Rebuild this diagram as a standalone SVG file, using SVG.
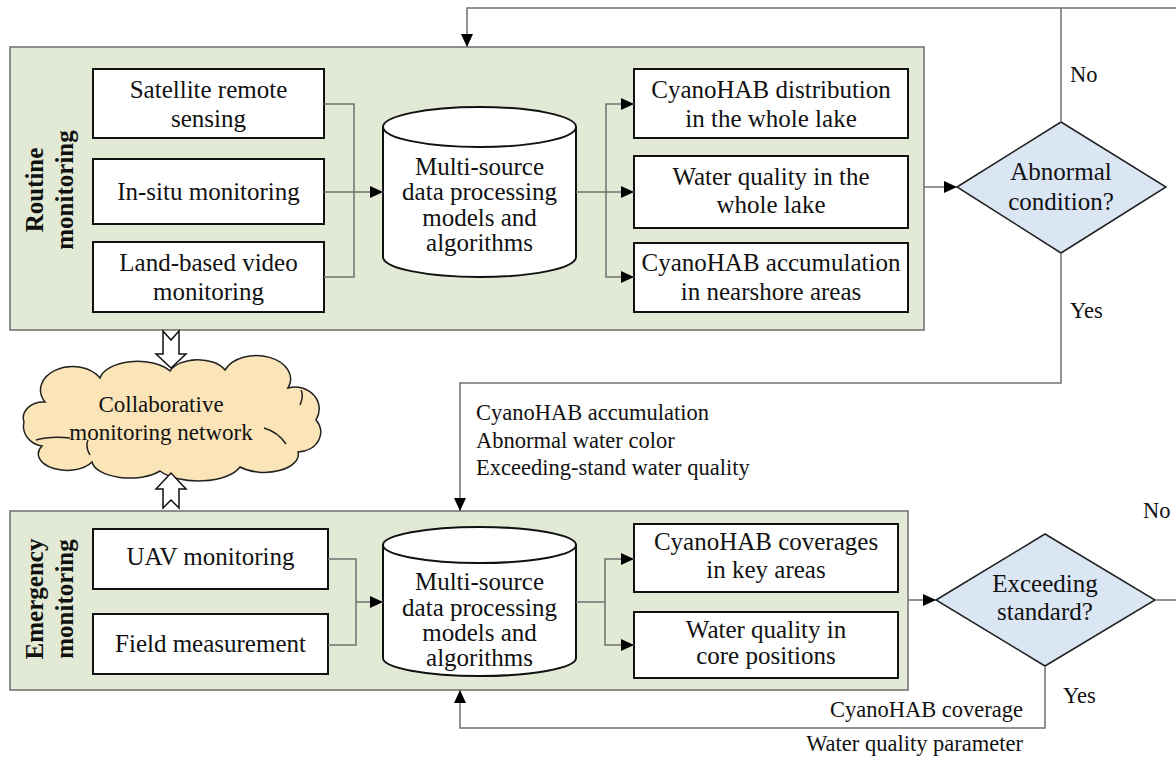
<svg xmlns="http://www.w3.org/2000/svg" width="1176" height="757" viewBox="0 0 1176 757">
<style>
.panel{fill:#e2ead6;stroke:#6e6e6e;stroke-width:1.5}
.box{fill:#fff;stroke:#111;stroke-width:2}
.cyl{fill:#fff;stroke:#111;stroke-width:2}
.dia{fill:#dbe6f4;stroke:#222;stroke-width:1.5}
.t{font-family:"Liberation Serif","Times New Roman",serif;font-size:25px;fill:#111;text-anchor:middle}
.lb{font-family:"Liberation Serif","Times New Roman",serif;font-size:22.5px;fill:#111}
.side{font-family:"Liberation Serif","Times New Roman",serif;font-size:25px;font-weight:bold;fill:#111;text-anchor:middle}
.c{fill:none;stroke:#707070;stroke-width:1.5}
.hollow{fill:#fff;stroke:#111;stroke-width:1.5;stroke-linejoin:miter}
</style>
<defs>
<marker id="ah" markerUnits="userSpaceOnUse" markerWidth="14" markerHeight="12" refX="13" refY="6" orient="auto">
<path d="M0,0 L13,6 L0,12 z" fill="#000"/>
</marker>
</defs>

<g id="routine-panel">
<rect class="panel" x="10" y="47" width="914" height="283"/>
<text class="side" transform="translate(43,190) rotate(-90)">Routine</text>
<text class="side" transform="translate(73,190) rotate(-90)">monitoring</text>
</g>
<g id="satellite"><rect class="box" x="93" y="69" width="231" height="69"/>
<text class="t" x="208.5" y="98">Satellite remote</text><text class="t" x="208.5" y="127">sensing</text></g>
<g id="insitu"><rect class="box" x="93" y="159" width="231" height="65"/>
<text class="t" x="208.5" y="200">In-situ monitoring</text></g>
<g id="landbased"><rect class="box" x="93" y="242" width="231" height="70"/>
<text class="t" x="208.5" y="271">Land-based video</text><text class="t" x="208.5" y="300">monitoring</text></g>
<g id="cyl-top">
<path class="cyl" d="M383,127 L383,257 A96.5,20 0 0 0 576,257 L576,127 A96.5,20 0 0 0 383,127 A96.5,20 0 0 0 576,127"/>
<text class="t" x="479.5" y="175">Multi-source</text>
<text class="t" x="479.5" y="200">data processing</text>
<text class="t" x="479.5" y="226">models and</text>
<text class="t" x="479.5" y="251">algorithms</text>
</g>
<g id="distribution"><rect class="box" x="634" y="69" width="274" height="69"/>
<text class="t" x="771" y="98">CyanoHAB distribution</text><text class="t" x="771" y="127">in the whole lake</text></g>
<g id="wq-whole"><rect class="box" x="634" y="156" width="274" height="72"/>
<text class="t" x="771" y="185">Water quality in the</text><text class="t" x="771" y="213">whole lake</text></g>
<g id="accumulation"><rect class="box" x="634" y="243" width="274" height="69"/>
<text class="t" x="771" y="271">CyanoHAB accumulation</text><text class="t" x="771" y="300">in nearshore areas</text></g>
<g id="abnormal">
<polygon class="dia" points="957,187 1061,122 1166,187 1061,253"/>
<text class="t" x="1061" y="180">Abnormal</text><text class="t" x="1061" y="210">condition?</text>
</g>

<g id="cloud">
<path d="M45,402 A30,22 0 0 1 100,378 A38,20 0 0 1 170,371 A30,18 0 0 1 225,370 A32,22 0 0 1 288,388 A24,22 0 0 1 316,420 A24,20 0 0 1 298,452 A34,18 0 0 1 240,467 A44,20 0 0 1 160,471 A38,18 0 0 1 92,462 A28,16 0 0 1 42,446 A22,20 0 0 1 24,422 A20,16 0 0 1 45,402 Z" fill="#fbe5b8" stroke="#222" stroke-width="1.5"/>
<path d="M36,440 Q50,436 70,438 M264,428 Q278,432 286,444 M90,455 Q85,446 88,440 M300,405 Q304,396 301,390" fill="none" stroke="#222" stroke-width="1.5"/>
<text class="lb" x="161" y="412" text-anchor="middle" style="font-size:23px">Collaborative</text>
<text class="lb" x="161" y="440" text-anchor="middle" style="font-size:23px">monitoring network</text>
</g>
<g id="hollow-arrows">
<polygon class="hollow" points="163,331 171,340 179,331 179,354 186,354 171,368 156,354 163,354"/>
<polygon class="hollow" points="163,508 171,500 179,508 179,489 186,489 171,473 156,489 163,489"/>
</g>

<g id="emergency-panel">
<rect class="panel" x="10" y="511" width="898" height="179"/>
<text class="side" transform="translate(43,599) rotate(-90)">Emergency</text>
<text class="side" transform="translate(73,599) rotate(-90)">monitoring</text>
</g>
<g id="uav"><rect class="box" x="93" y="529" width="235" height="60"/>
<text class="t" x="210.5" y="565">UAV monitoring</text></g>
<g id="field"><rect class="box" x="93" y="614" width="235" height="60"/>
<text class="t" x="210.5" y="652">Field measurement</text></g>
<g id="cyl-bottom">
<path class="cyl" d="M383,545 L383,658 A96.5,18 0 0 0 576,658 L576,545 A96.5,18 0 0 0 383,545 A96.5,18 0 0 0 576,545"/>
<text class="t" x="479.5" y="590">Multi-source</text>
<text class="t" x="479.5" y="616">data processing</text>
<text class="t" x="479.5" y="641">models and</text>
<text class="t" x="479.5" y="666">algorithms</text>
</g>
<g id="coverages"><rect class="box" x="634" y="524" width="264" height="68"/>
<text class="t" x="766" y="550">CyanoHAB coverages</text><text class="t" x="766" y="578">in key areas</text></g>
<g id="wq-core"><rect class="box" x="634" y="612" width="264" height="66"/>
<text class="t" x="766" y="638">Water quality in</text><text class="t" x="766" y="664">core positions</text></g>
<g id="exceeding">
<polygon class="dia" points="936,600 1045,534 1155,600 1045,666"/>
<text class="t" x="1045" y="592">Exceeding</text><text class="t" x="1045" y="620">standard?</text>
</g>

<g id="connectors">
<path class="c" d="M324,104 H354 V277 H324 M324,192 H383" marker-end="url(#ah)"/>
<path class="c" d="M576,192 H634" marker-end="url(#ah)"/>
<path class="c" d="M606,192 V104 H634" marker-end="url(#ah)"/>
<path class="c" d="M606,192 V277 H634" marker-end="url(#ah)"/>
<path class="c" d="M924,187 H957" marker-end="url(#ah)"/>
<path class="c" d="M1176,8 H467 V47" marker-end="url(#ah)"/>
<path class="c" d="M1061,122 V8"/>
<path class="c" d="M1061,253 V383 H460 V511" marker-end="url(#ah)"/>
<path class="c" d="M328,559 H356 V645 H328 M356,602 H383" marker-end="url(#ah)"/>
<path class="c" d="M576,602 H605 V559 H634" marker-end="url(#ah)"/>
<path class="c" d="M605,602 V645 H634" marker-end="url(#ah)"/>
<path class="c" d="M908,600 H936" marker-end="url(#ah)"/>
<path class="c" d="M1155,600 H1176"/>
<path class="c" d="M1045,666 V728 H460 V690" marker-end="url(#ah)"/>
</g>
<g id="labels">
<text class="lb" x="1070" y="82">No</text>
<text class="lb" x="1070" y="318">Yes</text>
<text class="lb" x="476" y="420">CyanoHAB accumulation</text>
<text class="lb" x="476" y="448">Abnormal water color</text>
<text class="lb" x="476" y="475">Exceeding-stand water quality</text>
<text class="lb" x="1143" y="518">No</text>
<text class="lb" x="1063" y="703">Yes</text>
<text class="lb" x="1023" y="717" text-anchor="end">CyanoHAB coverage</text>
<text class="lb" x="1023" y="751" text-anchor="end">Water quality parameter</text>
</g>
</svg>
